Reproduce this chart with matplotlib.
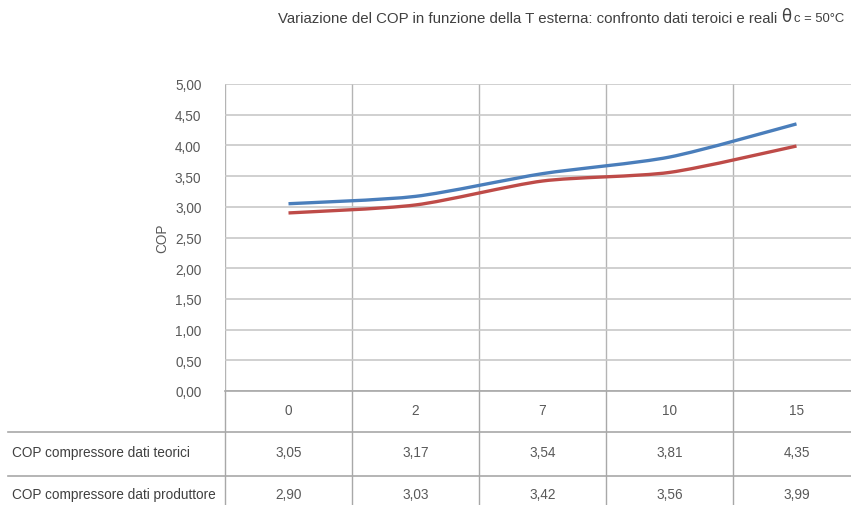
import matplotlib
matplotlib.use("Agg")
import matplotlib.pyplot as plt
from matplotlib.path import Path
from matplotlib.patches import PathPatch
from matplotlib.lines import Line2D

categories = ["0", "2", "7", "10", "15"]
cop_teorici = [3.05, 3.17, 3.54, 3.81, 4.35]
cop_produttore = [2.90, 3.03, 3.42, 3.56, 3.99]
series_names = ["COP compressore dati teorici", "COP compressore dati produttore"]
yticks = [0, 0.5, 1.0, 1.5, 2.0, 2.5, 3.0, 3.5, 4.0, 4.5, 5.0]
title = "Variazione del COP in funzione della T esterna: confronto dati teroici e reali"

plt.rcParams['font.family'] = ["Liberation Sans", "DejaVu Sans"]

W, H = 851, 506
fig = plt.figure(figsize=(W / 100, H / 100), dpi=100)

def fx(px):
    return px / W

def fy(py):
    return 1 - py / H

tc = "#595959"
fs = 9.8
left, right, top, bottom = 225, 860, 85, 392
ax = fig.add_axes([fx(left), fy(bottom), (right - left) / W, (bottom - top) / H])
n = len(categories)
ax.set_xlim(-0.5, n - 0.5)
ax.set_ylim(0, 5)
for s in ax.spines.values():
    s.set_visible(False)
ax.set_yticks(yticks)
ax.set_yticklabels([f"{v:.2f}".replace(".", ",") for v in yticks], color=tc, fontsize=fs)
ax.tick_params(axis="y", length=0, pad=17)
ax.set_xticks([i - 0.5 for i in range(n)] + [n - 0.5])
ax.set_xticklabels([])
ax.tick_params(axis="x", length=0)
ax.grid(True, axis="y", color="#c8c8c8", lw=1.2)
ax.grid(True, axis="x", color="#b4b4b4", lw=1.0)
ax.set_axisbelow(True)
ax.set_ylabel("COP", color=tc, fontsize=fs, labelpad=4)


def smooth_path(xs, ys, t=1 / 8):
    verts = [(xs[0], ys[0])]
    codes = [Path.MOVETO]
    m = len(xs)
    for i in range(m - 1):
        x0, y0 = (xs[i - 1], ys[i - 1]) if i > 0 else (xs[i], ys[i])
        x1, y1 = xs[i], ys[i]
        x2, y2 = xs[i + 1], ys[i + 1]
        x3, y3 = (xs[i + 2], ys[i + 2]) if i + 2 < m else (x2, y2)
        c1 = (x1 + (x2 - x0) * t, y1 + (y2 - y0) * t)
        c2 = (x2 - (x3 - x1) * t, y2 - (y3 - y1) * t)
        verts += [c1, c2, (x2, y2)]
        codes += [Path.CURVE4] * 3
    return Path(verts, codes)

xs = list(range(n))
for vals, col in [(cop_produttore, "#be4b48"), (cop_teorici, "#4a7ebb")]:
    p = PathPatch(smooth_path(xs, vals), facecolor="none", edgecolor=col, lw=2.4, capstyle="butt", zorder=3)
    ax.add_patch(p)

# data table
gc = "#a8a8a8"
row_lines = [433, 477]
for yy in row_lines:
    fig.add_artist(Line2D([fx(8), 1], [fy(yy), fy(yy)], color=gc, lw=1.2))
fig.add_artist(Line2D([fx(left), 1], [fy(bottom), fy(bottom)], color=gc, lw=1.2))
cw = (right - left) / n
for i in range(n + 1):
    xx = left + i * cw
    fig.add_artist(Line2D([fx(xx), fx(xx)], [fy(bottom), 0], color=gc, lw=1.0))

row_centers = [411, 453, 495]
for i, c in enumerate(categories):
    cx = left + (i + 0.5) * cw
    fig.text(fx(cx), fy(row_centers[0]), c, ha="center", va="center", fontsize=fs, color=tc)
    fig.text(fx(cx), fy(row_centers[1]), f"{cop_teorici[i]:.2f}".replace(".", ","), ha="center", va="center", fontsize=fs, color=tc)
    fig.text(fx(cx), fy(row_centers[2]), f"{cop_produttore[i]:.2f}".replace(".", ","), ha="center", va="center", fontsize=fs, color=tc)
fig.text(fx(12), fy(row_centers[1]), series_names[0], ha="left", va="center", fontsize=fs, color="#404040")
fig.text(fx(12), fy(row_centers[2]), series_names[1], ha="left", va="center", fontsize=fs, color="#404040")

# title
fig.text(fx(777), fy(19), title, ha="right", va="center", fontsize=10.8, color="#404040")
fig.text(fx(781), fy(17), "θ", ha="left", va="center", fontsize=12, color="#404040", family=["DejaVu Sans"])
fig.text(fx(794), fy(19), "c = 50°C", ha="left", va="center", fontsize=9.4, color="#404040")

fig.savefig("out.png", dpi=100)
